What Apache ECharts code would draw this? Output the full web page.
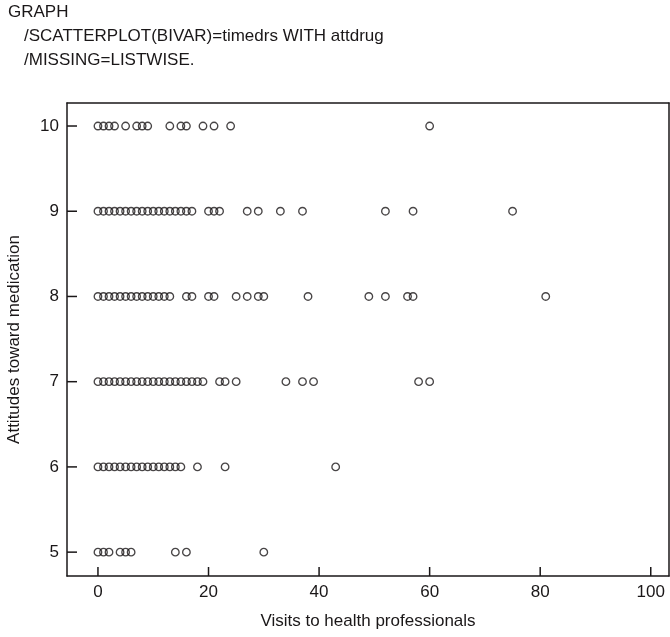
<!DOCTYPE html>
<html>
<head>
<meta charset="utf-8">
<script src="https://cdn.jsdelivr.net/npm/echarts@6/dist/echarts.min.js"></script>
<style>
  html, body { margin: 0; padding: 0; background: #fff; }
  #chart { width: 670px; height: 637px; }
</style>
</head>
<body>
<div id="chart"></div>
<script>
  // timedrs values
  var row10 = [0, 1, 2, 3, 5, 7, 8, 9, 13, 15, 16, 19, 21, 24, 60]
  var row9 = [0, 1, 2, 3, 4, 5, 6, 7, 8, 9, 10, 11, 12, 13, 14, 15, 16, 17, 20, 21, 22, 27, 29, 33, 37, 52, 57, 75]
  var row8 = [0, 1, 2, 3, 4, 5, 6, 7, 8, 9, 10, 11, 12, 13, 16, 17, 20, 21, 25, 27, 29, 30, 38, 49, 52, 56, 57, 81]
  var row7 = [0, 1, 2, 3, 4, 5, 6, 7, 8, 9, 10, 11, 12, 13, 14, 15, 16, 17, 18, 19, 22, 23, 25, 34, 37, 39, 58, 60]
  var row6 = [0, 1, 2, 3, 4, 5, 6, 7, 8, 9, 10, 11, 12, 13, 14, 15, 18, 23, 43]
  var row5 = [0, 1, 2, 4, 5, 6, 14, 16, 30]

  var rowLevels = [10, 9, 8, 7, 6, 5]
  var xTicks = [0, 20, 40, 60, 80, 100]
  var yTicks = [5, 6, 7, 8, 9, 10]
  var xStep = 20
  var yStep = 1

  var headerLines = [
    'GRAPH',
    '/SCATTERPLOT(BIVAR)=timedrs WITH attdrug',
    '/MISSING=LISTWISE.'
  ]

  // 把每一行转换成散点坐标
  function convertData (rows, levels) {
    var res = []
    for (var i = 0; i < rows.length; i++) {
      for (var j = 0; j < rows[i].length; j++) {
        res.push([rows[i][j], levels[i]])
      }
    }
    return res
  }

  var points = convertData([row10, row9, row8, row7, row6, row5], rowLevels)
  var font = 'Liberation Sans, Arial, Helvetica, sans-serif'
  var ink = '#1a1718'
  var lw = 1.5
  var xRange = [-5.6, 103.3]
  var yRange = [4.72, 10.27]

  var xTickData = xTicks.map(function (v) { return [v, yRange[0]] })
  var yTickData = yTicks.map(function (v) { return [xRange[0], v] })

  // 刻度线（朝内）
  function tickRenderer (dx, dy) {
    return function (params, api) {
      var p = api.coord([api.value(0), api.value(1)])
      return {
        type: 'line',
        shape: { x1: p[0], y1: p[1], x2: p[0] + dx, y2: p[1] + dy },
        style: { stroke: ink, lineWidth: lw }
      }
    }
  }

  // 边框用的辅助轴
  function frameAxis (pos, range) {
    return {
      type: 'value',
      position: pos,
      min: range[0],
      max: range[1],
      axisLine: { show: true, onZero: false, lineStyle: { color: ink, width: lw } },
      axisTick: { show: false },
      axisLabel: { show: false },
      splitLine: { show: false }
    }
  }

  var chart = echarts.init(document.getElementById('chart'))
  chart.setOption({
    animation: false,
    backgroundColor: '#fff',
    textStyle: { fontFamily: font, color: ink },
    graphic: [
      { type: 'text', left: 8, top: 4, style: { text: headerLines[0], font: '17px ' + font, fill: ink } },
      { type: 'text', left: 24, top: 28, style: { text: headerLines[1], font: '17px ' + font, fill: ink } },
      { type: 'text', left: 24, top: 52, style: { text: headerLines[2], font: '17px ' + font, fill: ink } }
    ],
    grid: {
      left: 67,
      top: 103,
      right: 1,
      bottom: 61,
      containLabel: false,
      outerBoundsMode: 'none'
    },
    xAxis: [{
      type: 'value',
      position: 'bottom',
      min: xRange[0],
      max: xRange[1],
      minInterval: xStep,
      maxInterval: xStep,
      name: 'Visits to health professionals',
      nameLocation: 'middle',
      nameGap: 37,
      nameTextStyle: { fontSize: 17, color: ink },
      splitLine: { show: false },
      axisLine: { show: true, onZero: false, lineStyle: { color: ink, width: lw } },
      axisTick: { show: false },
      axisLabel: { fontSize: 17, color: ink, margin: 8, showMinLabel: false, showMaxLabel: false }
    }, frameAxis('top', xRange)],
    yAxis: [{
      type: 'value',
      position: 'left',
      min: yRange[0],
      max: yRange[1],
      minInterval: yStep,
      maxInterval: yStep,
      name: 'Attitudes toward medication',
      nameLocation: 'middle',
      nameGap: 44,
      nameTextStyle: { fontSize: 17, color: ink },
      splitLine: { show: false },
      axisLine: { show: true, onZero: false, lineStyle: { color: ink, width: lw } },
      axisTick: { show: false },
      axisLabel: { fontSize: 17, color: ink, margin: 8, showMinLabel: false, showMaxLabel: false }
    }, frameAxis('right', yRange)],
    series: [
      {
        type: 'custom',
        renderItem: tickRenderer(0, -9),
        clip: false,
        silent: true,
        data: xTickData
      },
      {
        type: 'custom',
        renderItem: tickRenderer(10, 0),
        clip: false,
        silent: true,
        data: yTickData
      },
      {
        type: 'scatter',
        symbol: 'circle',
        symbolSize: 7.5,
        itemStyle: {
          color: 'rgba(0,0,0,0)',
          borderColor: ink,
          borderWidth: 1.35
        },
        data: points
      }
    ]
  })
</script>
</body>
</html>
